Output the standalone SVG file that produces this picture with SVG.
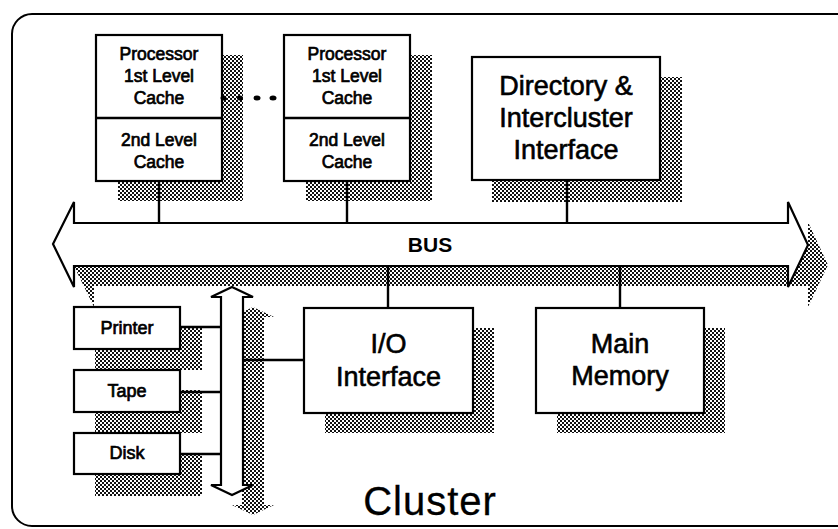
<svg xmlns="http://www.w3.org/2000/svg" width="838" height="529" viewBox="0 0 838 529">
  <defs>
    <!-- halftone fill used for all drop shadows -->
    <pattern id="halftone" width="4" height="4" patternUnits="userSpaceOnUse">
      <rect width="4" height="4" fill="#fff"/>
      <rect width="2" height="2" fill="#111"/>
      <rect x="2" y="2" width="2" height="2" fill="#111"/>
    </pattern>
    <style>
      .frame { fill: none; stroke: #000; stroke-width: 2; }
      .box { fill: #fff; stroke: #000; stroke-width: 2.2; }
      .shadow { fill: url(#halftone); stroke: none; }
      .wire { stroke: #000; stroke-width: 2.4; fill: none; }
      text { font-family: "Liberation Sans", Arial, Helvetica, sans-serif; fill: #000; text-anchor: middle; }
      .sm { font-size: 17.5px; stroke: #000; stroke-width: 0.7; }
      .md { font-size: 18px; stroke: #000; stroke-width: 0.7; }
      .lg { font-size: 27px; stroke: #000; stroke-width: 0.6; }
      .bus { font-size: 21px; font-weight: bold; }
      .title { font-size: 40px; stroke: #000; stroke-width: 0.3; letter-spacing: 1px; }
    </style>
  </defs>

  <rect width="838" height="529" fill="#fff"/>

  <!-- outer cluster frame (open to the right) -->
  <rect class="frame" x="12" y="14" width="860" height="512" rx="20" ry="20"/>

  <!-- drop shadows -->
  <g id="shadows">
    <rect class="shadow" x="118" y="55" width="125" height="146"/>
    <rect class="shadow" x="306" y="55" width="126" height="146"/>
    <rect class="shadow" x="492" y="77" width="190" height="125"/>
    <rect class="shadow" x="325" y="328" width="169" height="105"/>
    <rect class="shadow" x="557" y="328" width="168" height="105"/>
    <rect class="shadow" x="95" y="327" width="107" height="43"/>
    <rect class="shadow" x="95" y="390" width="107" height="43"/>
    <rect class="shadow" x="95" y="453" width="107" height="43"/>
    <polygon class="shadow" points="73,264 94,222 94,243 808,243 808,222 828,265 808,307 808,286 94,286 94,307"/>
    <polygon class="shadow" points="253,307 274,317 264,317 264,505 274,505 253,515 232,505 242,505 242,317 232,317"/>
  </g>

  <!-- system bus -->
  <g id="bus">
    <polygon class="box" points="53,244 74,202 74,223 788,223 788,202 808,245 788,287 788,266 74,266 74,287"/>
    <text class="bus" x="430" y="252">BUS</text>
  </g>

  <!-- peripheral bus -->
  <g id="io-bus">
    <polygon class="box" points="232,287 253,297 243,297 243,485 253,485 232,495 211,485 221,485 221,297 211,297"/>
  </g>

  <g id="cpu1">
    <rect class="box" x="96" y="35" width="126" height="146"/>
    <line class="wire" x1="96" y1="118" x2="222" y2="118"/>
    <text class="sm" x="159" y="60">Processor</text>
    <text class="sm" x="159" y="82">1st Level</text>
    <text class="sm" x="159" y="104">Cache</text>
    <text class="sm" x="159" y="146">2nd Level</text>
    <text class="sm" x="159" y="168">Cache</text>
  </g>

  <g id="ellipsis">
    <ellipse cx="223.5" cy="98" rx="3" ry="2.5"/>
    <ellipse cx="240" cy="98" rx="3" ry="2.5"/>
    <ellipse cx="257" cy="98" rx="3.5" ry="2.5"/>
    <ellipse cx="273" cy="98" rx="3.5" ry="2.5"/>
  </g>

  <g id="cpu2">
    <rect class="box" x="284" y="35" width="126" height="146"/>
    <line class="wire" x1="284" y1="118" x2="410" y2="118"/>
    <text class="sm" x="347" y="60">Processor</text>
    <text class="sm" x="347" y="82">1st Level</text>
    <text class="sm" x="347" y="104">Cache</text>
    <text class="sm" x="347" y="146">2nd Level</text>
    <text class="sm" x="347" y="168">Cache</text>
  </g>

  <g id="directory">
    <rect class="box" x="472" y="57" width="188" height="123"/>
    <text class="lg" x="566" y="95">Directory &amp;</text>
    <text class="lg" x="566" y="127">Intercluster</text>
    <text class="lg" x="566" y="159">Interface</text>
  </g>

  <g id="io-interface">
    <rect class="box" x="304" y="308" width="169" height="105"/>
    <text class="lg" x="388.5" y="353">I/O</text>
    <text class="lg" x="388.5" y="386">Interface</text>
  </g>

  <g id="main-memory">
    <rect class="box" x="536" y="308" width="168" height="105"/>
    <text class="lg" x="620" y="353">Main</text>
    <text class="lg" x="620" y="385">Memory</text>
  </g>

  <g id="printer">
    <rect class="box" x="74" y="307" width="106" height="42"/>
    <text class="md" x="127" y="334">Printer</text>
  </g>

  <g id="tape">
    <rect class="box" x="74" y="370" width="106" height="42"/>
    <text class="md" x="127" y="397">Tape</text>
  </g>

  <g id="disk">
    <rect class="box" x="74" y="433" width="106" height="41"/>
    <text class="md" x="127" y="459">Disk</text>
  </g>

  <!-- connectors -->
  <g id="connectors">
    <line class="wire" x1="159" y1="181" x2="159" y2="223"/>
    <line class="wire" x1="347" y1="181" x2="347" y2="223"/>
    <line class="wire" x1="567" y1="180" x2="567" y2="223"/>
    <line class="wire" x1="388" y1="266" x2="388" y2="308"/>
    <line class="wire" x1="620" y1="266" x2="620" y2="308"/>
    <line class="wire" x1="180" y1="327" x2="221" y2="327"/>
    <line class="wire" x1="180" y1="392" x2="221" y2="392"/>
    <line class="wire" x1="180" y1="454" x2="221" y2="454"/>
    <line class="wire" x1="243" y1="360" x2="304" y2="360"/>
  </g>

  <text class="title" x="430" y="515">Cluster</text>
</svg>
